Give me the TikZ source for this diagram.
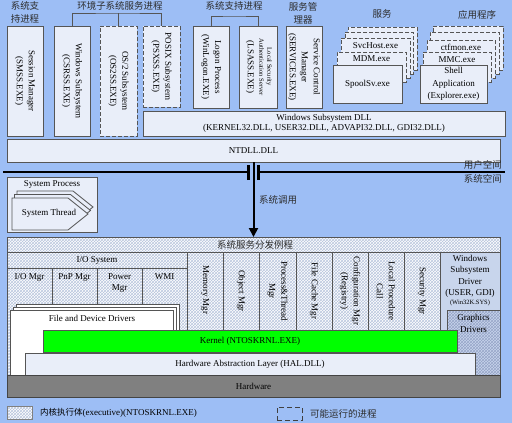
\documentclass[tikz,border=0pt]{standalone}
\usepackage{fontspec}
\setmainfont{Liberation Serif}
\newfontfamily\cjk{Noto Sans CJK SC}
\usetikzlibrary{patterns,arrows.meta}
\definecolor{bgblue}{RGB}{157,190,245}
\definecolor{boxfill}{RGB}{233,238,249}
\definecolor{wsdfill}{RGB}{200,213,236}
\definecolor{hatchcol}{RGB}{185,198,222}
\definecolor{hatchcolb}{RGB}{150,165,200}
\definecolor{bordergray}{RGB}{85,85,85}
\definecolor{hwgray}{RGB}{128,128,128}
\definecolor{kgreen}{RGB}{0,255,0}
\definecolor{zhtext}{RGB}{45,45,45}
\newcommand\rbx[7]{\node[#1,anchor=north west,inner sep=0pt,outer sep=0pt,align=center,minimum width={#5-#3},minimum height={#6-#4}] (#2) at (#3,#4) {#7};}
\begin{document}
\begin{tikzpicture}[x=1pt,y=-1pt,font=\fontsize{9}{11}\selectfont,
  box/.style={draw=bordergray,fill=boxfill,line width=0.8pt},
  dbox/.style={box,dash pattern=on 4pt off 2pt},
  hatch/.style={draw=bordergray,line width=0.8pt,preaction={fill=white},pattern=crosshatch,pattern color=hatchcol},
  hatchb/.style={draw=bordergray,line width=0.8pt,preaction={fill=wsdfill},pattern=crosshatch,pattern color=hatchcolb},
  lbl/.style={inner sep=0pt,align=center},
  vlbl/.style={inner sep=0pt,align=center,rotate=-90,font=\fontsize{9}{12}\selectfont},
  zh/.style={inner sep=0pt,align=center,text=zhtext,font=\cjk\fontsize{9.5}{13}\selectfont},
  brk/.style={draw=bordergray,line width=0.8pt},
  sep/.style={draw=bordergray,line width=0.8pt}]
% background
\fill[bgblue] (0,0) rectangle (512,423);
\useasboundingbox (0,0) rectangle (512,423);

% ---------- top labels ----------
\node[zh] (lblsmss) at (25,12.5) {系统支\\持进程};
\node[zh] (lblenv) at (120,6) {环境子系统服务进程};
\node[zh] (lblsup) at (234,6) {系统支持进程};
\node[zh] (lblscm) at (303,13) {服务管\\理器};
\node[zh] (lblsvc) at (382,14) {服务};
\node[zh] (lblapp) at (477,15) {应用程序};

% ---------- user-mode process boxes ----------
\rbx{box}{smss}{7}{26}{43}{136}{}
\rbx{box}{ws}{54}{26}{90}{136}{}
\rbx{dbox}{os2}{100}{26}{137}{136}{}
\rbx{dbox}{posix}{143}{26}{180}{107}{}
\rbx{box}{logon}{193}{26}{229}{108}{}
\rbx{box}{lsass}{239}{26}{277}{108}{}
\rbx{box}{scm}{286}{26}{322}{108}{}

\node[vlbl] (tsmss) at (smss.center) {Session Manager\\(SMSS.EXE)};
\node[vlbl] (tws) at (ws.center) {Windows Subsystem\\(CSRSS.EXE)};
\node[vlbl] (tos2) at (os2.center) {OS/2 Subsystem\\(OS2SS.EXE)};
\node[vlbl] (tposix) at (posix.center) {POSIX Subsystem\\(PSXSS.EXE)};
\node[vlbl] (tlogon) at (logon.center) {Logon Process\\(WinLogon.EXE)};
\node[vlbl,font=\fontsize{6.5}{8}\selectfont] (tlsassa) at (265.5,67) {Local Security\\Authentication Server};
\node[vlbl] (tlsassb) at (250,67) {(LSASS.EXE)};
\node[vlbl] (tscm) at (scm.center) {Service Control\\Manager\\(SERVICES.EXE)};

% brackets
\coordinate (envtop) at (118.5,13);
\draw[brk] (ws.north) |- (envtop) -| (posix.north);
\draw[brk] (os2.north) -- (envtop);
\coordinate (suptop) at (234,16);
\draw[brk] (logon.north) |- (suptop) -| (lsass.north);

% services stack
\rbx{dbox}{sv0}{348}{27}{417}{70}{}
\rbx{dbox}{sv1}{345}{32}{413}{74}{}
\rbx{dbox}{svchost}{341}{38}{410}{78}{}
\rbx{dbox}{mdm}{337}{52}{406}{82}{}
\rbx{box}{spool}{333}{65}{402}{103}{SpoolSv.exe}
\node[lbl] (tsvchost) at (375.5,46) {SvcHost.exe};
\node[lbl] (tmdm) at (371.5,59) {MDM.exe};

% applications stack
\rbx{dbox}{ap0}{433}{26}{503}{70}{}
\rbx{dbox}{ap1}{430}{32}{499}{74}{}
\rbx{dbox}{ctf}{427}{40}{495}{78}{}
\rbx{dbox}{mmc}{423}{52}{491}{82}{}
\rbx{box,font=\fontsize{9}{12.5}\selectfont}{shell}{420}{65}{487}{103}{Shell\\Application\\(Explorer.exe)}
\node[lbl] (tctf) at (461,47) {ctfmon.exe};
\node[lbl] (tmmc) at (457,59.5) {MMC.exe};

% Windows subsystem DLL
\rbx{box,font=\fontsize{9}{10.5}\selectfont}{wsdll}{143}{111}{505}{136}{\hspace*{0pt}Windows Subsystem DLL\\(KERNEL32.DLL, USER32.DLL, ADVAPI32.DLL, GDI32.DLL)}

% NTDLL
\rbx{box}{ntdll}{7}{139}{500}{162}{NTDLL.DLL}

% ---------- user / system boundary ----------
\coordinate (ulA) at (3,172);
\coordinate (ulB) at (248.5,172);
\coordinate (ulC) at (258.5,172);
\coordinate (ulD) at (505,172);
\draw[line width=1.8pt] (ulA) -- (ulB);
\draw[line width=1.8pt] (ulC) -- (ulD);
\draw[line width=2.2pt] ([yshift=-8]ulB) -- ([yshift=7]ulB);
\draw[line width=2.2pt] ([yshift=-8]ulC) -- ([yshift=7]ulC);
\node[zh,anchor=east] (lbluser) at (502,165) {用户空间};
\node[zh,anchor=east] (lblsys) at (502,179) {系统空间};

% System process
\rbx{box}{sysproc}{7}{177}{97}{232}{}
\node[lbl] (tsysproc) at (52,184) {System Process};
\draw[box] (17,191) -- (73,191) -- (93,207) -- (73,223) -- (17,223) -- cycle;
\draw[box] (14.5,194.5) -- (70.5,194.5) -- (90.5,210.5) -- (70.5,226.5) -- (14.5,226.5) -- cycle;
\draw[box] (12,198) -- (68,198) -- (88,214) -- (68,230) -- (12,230) -- cycle;
\node[lbl] (tthread) at (49,213) {System Thread};

% ---------- executive ----------
\rbx{hatch}{exec}{7}{237}{500}{375}{}
\draw[line width=2pt,-{Triangle[length=9pt,width=9pt]}] (ntdll.south) -- (exec.north);
\node[zh] (lblcall) at (278,200) {系统调用};
\draw[sep] (7,252) -- (500,252);
\node[zh] (lbldisp) at (255,245) {系统服务分发例程};

% I/O system
\draw[sep] (7,268) -- (187,268);
\draw[sep] (187,252) -- (187,330);
\node[lbl] (tio) at (97,260) {I/O System};
\foreach \x in {52,97,142} \draw[sep] (\x,268) -- (\x,304);
\node[lbl,anchor=north] (tiomgr) at (29.5,273) {I/O Mgr};
\node[lbl,anchor=north] (tpnp) at (74.5,273) {PnP Mgr};
\node[lbl,anchor=north] (tpower) at (119.5,273) {Power\\Mgr};
\node[lbl,anchor=north] (twmi) at (164.5,273) {WMI};

% columns
\foreach \x in {223,259,296,332,368,404,440} \draw[sep] (\x,252) -- (\x,330);
\node[vlbl] (tmem) at (205,290) {Memory Mgr};
\node[vlbl] (tobj) at (241,291) {Object Mgr};
\node[vlbl] (tproc) at (277.5,291) {Process\&Thread\\Mgr};
\node[vlbl] (tcache) at (314,291) {File Cache Mgr};
\node[vlbl] (tcfg) at (350,291) {Configuration Mgr\\(Registry)};
\node[vlbl] (tlpc) at (386,291) {Local Procedure\\Call};
\node[vlbl] (tsec) at (422,291) {Security Mgr};

% Windows subsystem driver
\rbx{draw=bordergray,line width=0.8pt,fill=wsdfill}{wsd}{440}{252}{500}{375}{}
\node[lbl,anchor=north,font=\fontsize{9}{11.3}\selectfont] (twsd) at (470,255) {Windows\\Subsystem\\Driver\\(USER, GDI)};
\node[lbl,font=\fontsize{6.5}{8}\selectfont] (twin32k) at (470,303) {(Win32K.SYS)};
\rbx{hatchb}{gfx}{447}{310}{500}{375}{}
\node[lbl,anchor=north,font=\fontsize{9}{12}\selectfont] (tgfx) at (473.5,314) {Graphics\\Drivers};

% file and device drivers
\rbx{draw=bordergray,line width=0.8pt,fill=white}{fdd2}{16}{304}{179}{375}{}
\rbx{draw=bordergray,line width=0.8pt,fill=white}{fdd1}{13}{307}{176}{375}{}
\rbx{draw=bordergray,line width=0.8pt,fill=white}{fdd}{10}{310}{173}{375}{}
\node[lbl] (tfdd) at (92,318) {File and Device Drivers};

% kernel, HAL, hardware
\rbx{draw=bordergray,line width=0.8pt,fill=kgreen}{kernel}{43}{330}{457}{352}{Kernel (NTOSKRNL.EXE)}
\rbx{box}{hal}{25}{353}{475}{375}{Hardware Abstraction Layer (HAL.DLL)}
\rbx{draw=bordergray!80!black,line width=0.8pt,fill=hwgray}{hw}{7}{375}{500}{397}{Hardware}

% ---------- legend ----------
\rbx{hatch,draw=gray}{leg1}{7}{406}{32}{419}{}
\node[lbl,anchor=west] (tleg1) at (40,413) {{\cjk\fontsize{8.5}{10}\selectfont 内核执行体}(executive)(NTOSKRNL.EXE)};
\rbx{draw=black!75,line width=0.9pt,dash pattern=on 5pt off 3pt}{leg2}{277}{407}{302}{420}{}
\node[zh,anchor=west] (tleg2) at (310,414) {可能运行的进程};
\end{tikzpicture}
\end{document}
